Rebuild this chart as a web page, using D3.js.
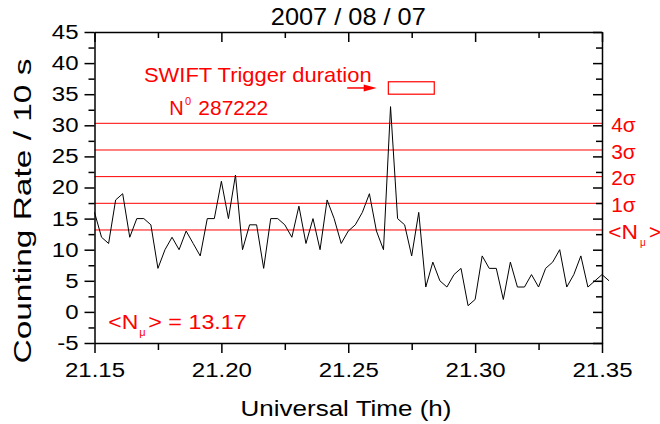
<!DOCTYPE html>
<html><head><meta charset="utf-8">
<script src="https://cdn.jsdelivr.net/npm/d3@7"></script>
<style>
body{margin:0;background:#fff;}
svg{display:block;font-family:"Liberation Sans",Arial,sans-serif;}
</style></head><body>
<svg id="c" width="660" height="424"></svg>
<script>
// ---- data ----
const titleText = "2007 / 08 / 07";
const xLabel = "Universal Time (h)";
const yLabel = "Counting Rate / 10 s";
const startTime = 21.15;          // h
const binSeconds = 10;            // s per bin
const counts = [16,12,11,18,19,12,15,15,14,7,10,12,10,13,11,9,15,15,21,15,22,10,14,14,7,
  15,15,14,12,17,11,15,10,18,15,11,13,14,16,19,13,10,33,15,14,9,16,4,8,5,4,6,7,1,2,9,7,7,2,
  8,4,4,6,4,7,8,10,4,6,9,4,5,6,5];
const levelValues = [13.17, 17.46, 21.75, 26.03, 30.32];
const levelLabels = ["<N", "1σ", "2σ", "3σ", "4σ"];
const xDomain = [21.15, 21.35];
const yDomain = [-5, 45];
const xMajorTicks = [21.15, 21.20, 21.25, 21.30, 21.35];
const xMinorTicks = [21.175, 21.225, 21.275, 21.325];
const yMajorTicks = [-5, 0, 5, 10, 15, 20, 25, 30, 35, 40, 45];
const yMinorTicks = [-2.5, 2.5, 7.5, 12.5, 17.5, 22.5, 27.5, 32.5, 37.5, 42.5];
const triggerTime = [21.2658, 21.2839];
const triggerRate = [35, 37];
const arrowTime = [21.2496, 21.2612];
const arrowRate = 36;
const swiftText = "SWIFT Trigger duration";
const triggerNumber = "287222";
const meanValueText = "13.17";

// ---- layout ----
const svg = d3.select("#c");
const L = 94.5, R = 602, T = 32, B = 343;
const x = d3.scaleLinear().domain(xDomain).range([L, R]);
const y = d3.scaleLinear().domain(yDomain).range([B, T]);
const RED = "#ff0000";

function stretch(sel, k) {
  sel.each(function () {
    const w = this.getComputedTextLength();
    d3.select(this).attr("textLength", w * k).attr("lengthAdjust", "spacingAndGlyphs");
  });
}

// sigma lines
svg.append("g").selectAll("line").data(levelValues).join("line")
  .attr("x1", L).attr("x2", R)
  .attr("y1", d => y(d)).attr("y2", d => y(d))
  .attr("stroke", RED).attr("stroke-width", 1);

// data line
const pts = counts.map((c, i) => [startTime + i * binSeconds / 3600, c]);
svg.append("path").datum(pts)
  .attr("fill", "none").attr("stroke", "#000").attr("stroke-width", 1)
  .attr("d", d3.line().x(d => x(d[0])).y(d => y(d[1])));

// axes
const axStyle = g => { g.selectAll("path,line").attr("stroke", "#000").attr("stroke-width", 1.5); };
// bottom
const gb = svg.append("g").attr("transform", `translate(0,${B})`)
  .call(d3.axisBottom(x).tickValues(xMajorTicks).tickSize(10).tickSizeOuter(0).tickPadding(10)
    .tickFormat(d3.format(".2f")));
gb.call(axStyle);
gb.selectAll("text").attr("font-size", 20).attr("fill", "#000").attr("font-family", "Liberation Sans, Arial, sans-serif");
stretch(gb.selectAll("text"), 1.2);
svg.append("g").attr("transform", `translate(0,${B})`)
  .call(d3.axisBottom(x).tickValues(xMinorTicks).tickSize(7).tickSizeOuter(0).tickFormat(""))
  .call(axStyle).select(".domain").remove();
// top
svg.append("g").attr("transform", `translate(0,${T})`)
  .call(d3.axisTop(x).tickValues(xMajorTicks).tickSize(-10).tickSizeOuter(0).tickFormat(""))
  .call(axStyle);
svg.append("g").attr("transform", `translate(0,${T})`)
  .call(d3.axisTop(x).tickValues(xMinorTicks).tickSize(-6).tickSizeOuter(0).tickFormat(""))
  .call(axStyle).select(".domain").remove();
// left
const gl = svg.append("g").attr("transform", `translate(${L},0)`)
  .call(d3.axisLeft(y).tickValues(yMajorTicks).tickSize(10).tickSizeOuter(0).tickPadding(6)
    .tickFormat(d => String(d)));
gl.call(axStyle);
gl.selectAll("text").attr("font-size", 20).attr("fill", "#000").attr("font-family", "Liberation Sans, Arial, sans-serif");
stretch(gl.selectAll("text"), 1.2);
svg.append("g").attr("transform", `translate(${L},0)`)
  .call(d3.axisLeft(y).tickValues(yMinorTicks).tickSize(6).tickSizeOuter(0).tickFormat(""))
  .call(axStyle).select(".domain").remove();
// right
svg.append("g").attr("transform", `translate(${R},0)`)
  .call(d3.axisRight(y).tickValues(yMajorTicks).tickSize(-9).tickSizeOuter(0).tickFormat(""))
  .call(axStyle);
svg.append("g").attr("transform", `translate(${R},0)`)
  .call(d3.axisRight(y).tickValues(yMinorTicks).tickSize(-6).tickSizeOuter(0).tickFormat(""))
  .call(axStyle).select(".domain").remove();

// title
svg.append("text").attr("x", 348.3).attr("y", 25).attr("text-anchor", "middle")
  .attr("font-size", 24).attr("textLength", 155).attr("lengthAdjust", "spacingAndGlyphs")
  .text(titleText);
// axis titles
svg.append("text").attr("x", 346).attr("y", 416).attr("text-anchor", "middle")
  .attr("font-size", 21.5).attr("textLength", 211).attr("lengthAdjust", "spacingAndGlyphs")
  .text(xLabel);
svg.append("text").attr("transform", "translate(31,211) rotate(-90)").attr("text-anchor", "middle")
  .attr("font-size", 23).attr("textLength", 305).attr("lengthAdjust", "spacingAndGlyphs")
  .text(yLabel);

// right-side level labels
const lab = svg.append("g").attr("fill", RED).attr("font-size", 20.5);
levelValues.forEach((v, i) => {
  const by = y(v) + 8.6;
  if (i === 0) {
    lab.append("text").attr("x", 608.3).attr("y", by).attr("textLength", 29.7)
      .attr("lengthAdjust", "spacingAndGlyphs").text(levelLabels[i]);
    lab.append("text").attr("x", 640).attr("y", by + 7.5).attr("font-size", 10).text("μ");
    lab.append("text").attr("x", 649).attr("y", by).text(">");
  } else {
    lab.append("text").attr("x", 611.2).attr("y", by).attr("textLength", 24.5)
      .attr("lengthAdjust", "spacingAndGlyphs").text(levelLabels[i]);
  }
});

// SWIFT annotation
svg.append("text").attr("x", x(21.1695)).attr("y", y(37)).attr("fill", RED)
  .attr("font-size", 21).attr("textLength", 227.7).attr("lengthAdjust", "spacingAndGlyphs")
  .text(swiftText);
svg.append("text").attr("x", 169.3).attr("y", 115).attr("fill", RED).attr("font-size", 20).text("N");
svg.append("text").attr("x", 185).attr("y", 105).attr("fill", RED).attr("font-size", 11).text("0");
svg.append("text").attr("x", 198.3).attr("y", 115).attr("fill", RED).attr("font-size", 20)
  .attr("textLength", 70).attr("lengthAdjust", "spacingAndGlyphs").text(triggerNumber);

// trigger box
svg.append("rect")
  .attr("x", x(triggerTime[0])).attr("y", y(triggerRate[1]))
  .attr("width", x(triggerTime[1]) - x(triggerTime[0]))
  .attr("height", y(triggerRate[0]) - y(triggerRate[1]))
  .attr("fill", "none").attr("stroke", RED).attr("stroke-width", 1.2);
// arrow
const ax0 = x(arrowTime[0]), ax1 = x(arrowTime[1]), ay = y(arrowRate);
svg.append("line").attr("x1", ax0).attr("x2", ax1 - 10).attr("y1", ay).attr("y2", ay)
  .attr("stroke", RED).attr("stroke-width", 1.5);
svg.append("path").attr("d", `M${ax1},${ay}L${ax1 - 13},${ay - 3.5}L${ax1 - 13},${ay + 3.5}Z`)
  .attr("fill", RED);

// mean label
const mg = svg.append("g").attr("fill", RED);
mg.append("text").attr("x", 108.3).attr("y", 329.3).attr("font-size", 21)
  .attr("textLength", 30).attr("lengthAdjust", "spacingAndGlyphs").text("<N");
mg.append("text").attr("x", 139.3).attr("y", 336).attr("font-size", 11).text("μ");
mg.append("text").attr("x", 148.3).attr("y", 329.3).attr("font-size", 21)
  .attr("textLength", 98.4).attr("lengthAdjust", "spacingAndGlyphs").text("> = " + meanValueText);
</script>
</body></html>
